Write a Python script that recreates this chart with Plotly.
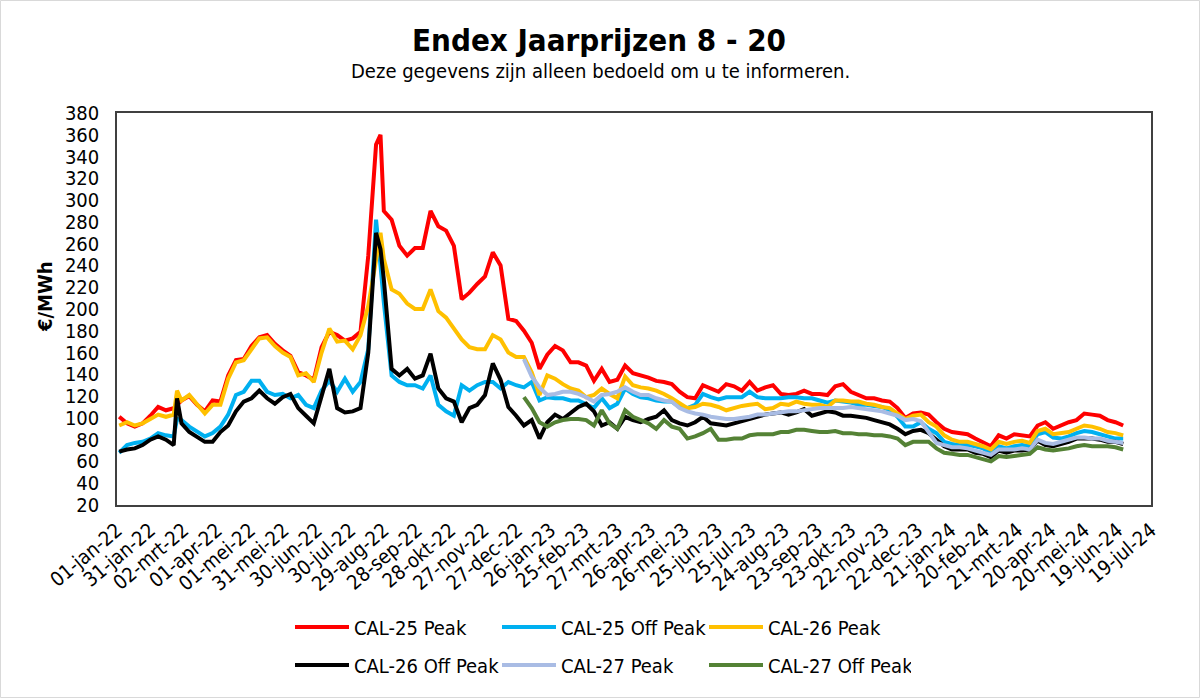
import datetime as dt
import pandas as pd
import plotly.graph_objects as go

title_text = "Endex Jaarprijzen 8 - 20"
subtitle_text = "Deze gegevens zijn alleen bedoeld om u te informeren."
y_title = "€/MWh"

# Sampling dates: weekly (Mondays) plus two extra trading days at the spikes
weekly_start = "2022-01-03"
weekly_end = "2024-06-24"
extra_dates = ["2022-02-24", "2022-08-26"]
cal27_start = "2023-01-02"

series_names = ["CAL-25 Peak", "CAL-25 Off Peak", "CAL-26 Peak",
                "CAL-26 Off Peak", "CAL-27 Peak", "CAL-27 Off Peak"]

cal25_peak = [
    101, 95, 92, 95, 102, 110, 107, 109, 112, 116,
    120, 112, 106, 116, 115, 139, 153, 154, 166, 174,
    176, 168, 162, 157, 142, 139, 135, 165, 179, 176,
    171, 173, 179, 249, 351, 360, 290, 282, 258, 249,
    256, 256, 290, 276, 272, 258, 209, 215, 223, 230,
    252, 240, 191, 189, 180, 169, 145, 158, 166, 162,
    151, 151, 148, 134, 145, 133, 135, 148, 141, 139,
    137, 134, 133, 131, 124, 119, 118, 130, 127, 124,
    131, 129, 125, 133, 125, 128, 130, 122, 121, 122,
    125, 122, 122, 121, 129, 131, 124, 121, 118, 118,
    116, 115, 109, 100, 104, 105, 103, 96, 90, 87,
    86, 85, 81, 77, 74, 84, 81, 85, 84, 83,
    93, 96, 90, 93, 96, 98, 104, 103, 102, 98,
    96, 93,
]

cal25_offpeak = [
    68, 75, 77, 78, 81, 86, 84, 83, 99, 98,
    92, 87, 83, 86, 92, 103, 121, 124, 134, 134,
    124, 121, 122, 118, 121, 112, 109, 125, 134, 124,
    136, 124, 133, 163, 282, 240, 206, 139, 133, 130,
    130, 127, 139, 112, 106, 102, 130, 125, 130, 133,
    133, 127, 133, 130, 128, 133, 116, 119, 118, 118,
    116, 116, 112, 109, 118, 109, 113, 127, 122, 119,
    118, 116, 115, 115, 110, 109, 112, 122, 119, 117,
    119, 119, 119, 124, 119, 118, 118, 118, 119, 119,
    118, 118, 116, 114, 116, 115, 114, 112, 112, 111,
    110, 107, 101, 92, 92, 96, 90, 86, 78, 76,
    75, 75, 74, 72, 68, 74, 72, 74, 75, 74,
    85, 87, 82, 81, 83, 86, 88, 87, 85, 83,
    81, 81,
]

cal26_peak = [
    93, 96, 93, 95, 99, 103, 101, 103, 125, 116,
    121, 113, 104, 112, 112, 136, 151, 153, 163, 173,
    174, 166, 160, 156, 139, 141, 133, 160, 182, 170,
    171, 163, 176, 203, 245, 270, 246, 218, 214, 205,
    200, 200, 218, 198, 192, 182, 172, 165, 163, 163,
    176, 172, 160, 156, 156, 142, 121, 139, 136, 131,
    127, 125, 119, 121, 127, 122, 118, 138, 130, 128,
    127, 125, 122, 118, 113, 109, 110, 113, 112, 110,
    107, 109, 111, 112, 113, 108, 109, 113, 112, 115,
    113, 112, 112, 110, 116, 116, 115, 115, 113, 112,
    110, 109, 104, 99, 102, 103, 96, 92, 84, 80,
    78, 78, 76, 74, 71, 78, 76, 78, 79, 77,
    88, 90, 85, 86, 87, 90, 93, 92, 90, 87,
    86, 84,
]

cal26_offpeak = [
    69, 71, 72, 75, 80, 83, 80, 75, 118, 95,
    87, 83, 78, 78, 87, 93, 106, 115, 118, 125,
    118, 113, 119, 122, 109, 102, 95, 120, 145, 109,
    105, 106, 109, 160, 270, 255, 227, 145, 139, 145,
    136, 139, 159, 127, 118, 115, 96, 109, 112, 121,
    150, 135, 110, 102, 93, 98, 81, 96, 103, 99,
    104, 110, 113, 106, 93, 96, 90, 101, 98, 96,
    99, 101, 107, 98, 95, 93, 96, 101, 95, 94,
    93, 95, 97, 99, 101, 103, 104, 105, 103, 105,
    108, 102, 104, 106, 105, 102, 102, 101, 100, 98,
    96, 94, 90, 85, 88, 89, 86, 80, 74, 71,
    71, 71, 68, 67, 64, 70, 68, 70, 70, 71,
    79, 75, 74, 76, 78, 81, 81, 81, 80, 78,
    78, 76,
]

cal27_peak = [
    154, 138, 128, 121, 122, 124, 124, 122, 119, 115,
    121, 122, 124, 128, 124, 121, 121, 118, 116, 115,
    109, 106, 104, 103, 101, 100, 99, 99, 100, 101,
    103, 103, 104, 105, 106, 106, 107, 108, 109, 109,
    109, 109, 110, 109, 108, 107, 106, 104, 102, 98,
    99, 97, 87, 77, 75, 73, 73, 72, 70, 68,
    66, 71, 71, 71, 72, 71, 80, 77, 76, 78,
    80, 82, 82, 81, 81, 79, 78, 77,
]

cal27_offpeak = [
    119, 109, 96, 92, 96, 98, 99, 99, 98, 93,
    107, 95, 90, 107, 101, 98, 95, 90, 98, 92,
    90, 81, 83, 86, 90, 80, 80, 81, 81, 84,
    85, 85, 85, 87, 87, 89, 89, 88, 87, 87,
    88, 86, 86, 85, 85, 84, 84, 83, 81, 75,
    78, 78, 78, 72, 68, 67, 66, 66, 64, 62,
    60, 65, 64, 65, 66, 67, 73, 71, 70, 71,
    72, 74, 75, 74, 74, 74, 73, 71,
]

tick_labels = [
    "01-jan-22", "31-jan-22", "02-mrt-22", "01-apr-22", "01-mei-22", "31-mei-22",
    "30-jun-22", "30-jul-22", "29-aug-22", "28-sep-22", "28-okt-22", "27-nov-22",
    "27-dec-22", "26-jan-23", "25-feb-23", "27-mrt-23", "26-apr-23", "26-mei-23",
    "25-jun-23", "25-jul-23", "24-aug-23", "23-sep-23", "23-okt-23", "22-nov-23",
    "22-dec-23", "21-jan-24", "20-feb-24", "21-mrt-24", "20-apr-24", "20-mei-24",
    "19-jun-24", "19-jul-24",
]

colors = ["#FF0000", "#00B0F0", "#FFC000", "#000000", "#A9BCE4", "#548235"]

# ---------------------------------------------------------------------------
dates = sorted(list(pd.date_range(weekly_start, weekly_end, freq="7D"))
               + [pd.Timestamp(d) for d in extra_dates])
dates27 = [d for d in dates if d >= pd.Timestamp(cal27_start)]

month_map = {"jan": 1, "feb": 2, "mrt": 3, "apr": 4, "mei": 5, "jun": 6,
             "jul": 7, "aug": 8, "sep": 9, "okt": 10, "nov": 11, "dec": 12}


def parse_label(s):
    d, m, y = s.split("-")
    return dt.date(2000 + int(y), month_map[m], int(d))


tick_vals = [parse_label(s) for s in tick_labels]

FONT = "Tahoma, 'DejaVu Sans Condensed', 'DejaVu Sans', sans-serif"

all_series = [
    (cal25_peak, dates), (cal25_offpeak, dates), (cal26_peak, dates),
    (cal26_offpeak, dates), (cal27_peak, dates27), (cal27_offpeak, dates27),
]

fig = go.Figure()
for i, ((vals, xs), name, col) in enumerate(zip(all_series, series_names, colors)):
    fig.add_trace(go.Scatter(
        x=xs, y=vals, name=name, mode="lines",
        line=dict(color=col, width=4),
        legend="legend" if i < 3 else "legend2",
    ))

W, H = 1200, 698
L, R, T, B = 117, 49, 113, 193
pw, ph = W - L - R, H - T - B


def px_x(x):
    return (x - L) / pw


def px_y(y):
    return (H - B - y) / ph


legend_common = dict(
    orientation="h", xanchor="left", yanchor="middle",
    entrywidth=138, entrywidthmode="pixels", itemwidth=54,
    font=dict(family=FONT, size=20, color="#000000"),
    bgcolor="rgba(0,0,0,0)", traceorder="normal", tracegroupgap=0,
)

fig.update_layout(
    width=W, height=H,
    margin=dict(l=L, r=R, t=T, b=B),
    paper_bgcolor="#FFFFFF", plot_bgcolor="#FFFFFF",
    font=dict(family=FONT, color="#000000"),
    showlegend=True,
    legend=dict(x=px_x(290), y=px_y(627), **legend_common),
    legend2=dict(x=px_x(290), y=px_y(665), **legend_common),
    xaxis=dict(
        type="date",
        range=[tick_vals[0], tick_vals[-1]],
        tickmode="array", tickvals=tick_vals, ticktext=tick_labels,
        tickangle=-40, tickfont=dict(family=FONT, size=20, color="#000000"),
        showgrid=False, zeroline=False,
        showline=True, linecolor="#404040", linewidth=1.5, mirror=True,
        ticks="outside", ticklen=4, tickcolor="rgba(0,0,0,0)",
    ),
    yaxis=dict(
        range=[20, 380], dtick=20, tick0=20,
        tickfont=dict(family=FONT, size=20, color="#000000"),
        showgrid=False, zeroline=False,
        showline=True, linecolor="#404040", linewidth=1.5, mirror=True,
        ticks="outside", ticklen=12, tickcolor="rgba(0,0,0,0)",
    ),
    annotations=[
        dict(text="<b>" + title_text + "</b>", x=px_x(599), y=px_y(40),
             xref="paper", yref="paper", showarrow=False,
             xanchor="center", yanchor="middle",
             font=dict(family=FONT, size=31, color="#000000")),
        dict(text=subtitle_text, x=px_x(600), y=px_y(71),
             xref="paper", yref="paper", showarrow=False,
             xanchor="center", yanchor="middle",
             font=dict(family=FONT, size=20, color="#000000")),
        dict(text="<b>" + y_title + "</b>", x=px_x(45), y=px_y(297),
             xref="paper", yref="paper", showarrow=False, textangle=-90,
             xanchor="center", yanchor="middle",
             font=dict(family=FONT, size=20, color="#000000")),
    ],
    shapes=[
        dict(type="rect", xref="paper", yref="paper", layer="above",
             x0=px_x(0.5), x1=px_x(W - 0.5), y0=px_y(H - 0.5), y1=px_y(0.5),
             line=dict(color="#D9D9D9", width=1)),
    ],
)

fig.write_html("out.html", config={"displayModeBar": False},
               post_script="document.body.style.margin='0';")
